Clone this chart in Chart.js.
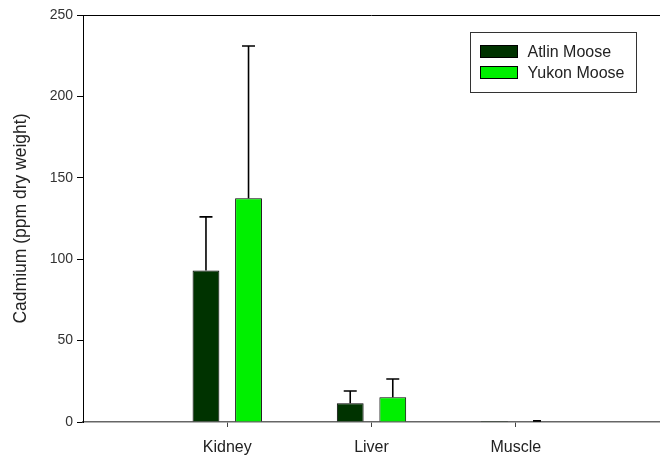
<!DOCTYPE html>
<html>
<head>
<meta charset="utf-8">
<script src="https://cdn.jsdelivr.net/npm/chart.js@4"></script>
<style>
  html, body { margin: 0; padding: 0; background: #fff; overflow: hidden; }
  canvas { display: block; }
</style>
</head>
<body>
<canvas id="chart" width="660" height="457"></canvas>
<script>
// data
const categories = ['Kidney', 'Liver', 'Muscle'];
const atlinMean = [93, 11.5, 0.05];
const atlinErr = [33, 7.5, 0];
const yukonMean = [137.5, 15.2, 0.3];
const yukonErr = [93.5, 11.2, 0.4];
const yTicks = [0, 50, 100, 150, 200, 250];

// pad with empty slots on both ends so spacing matches the original
const pad = arr => [null, ...arr, null];
const labels = ['', ...categories, ''];

const font = "'Liberation Sans', Arial, sans-serif";

// upward error bars with caps
const errorBars = {
    id: 'errorBars',
    afterDatasetsDraw(chart) {
        const ctx = chart.ctx;
        const y = chart.scales.y;
        ctx.save();
        ctx.strokeStyle = '#000';
        ctx.lineWidth = 1.6;
        chart.data.datasets.forEach((ds, di) => {
            const meta = chart.getDatasetMeta(di);
            ds.data.forEach((v, i) => {
                if (v == null || !ds.err[i]) return;
                const bar = meta.data[i];
                const top = y.getPixelForValue(v + ds.err[i]);
                const base = y.getPixelForValue(v);
                const cap = ds.err[i] < 1 ? 4 : 6.5;
                ctx.beginPath();
                ctx.moveTo(bar.x, base);
                ctx.lineTo(bar.x, top);
                ctx.moveTo(bar.x - cap, top);
                ctx.lineTo(bar.x + cap, top);
                ctx.stroke();
            });
        });
        ctx.restore();
    }
};

// top frame line and boxed legend
const frame = {
    id: 'frame',
    afterDraw(chart) {
        const ctx = chart.ctx;
        const a = chart.chartArea;
        ctx.save();
        ctx.strokeStyle = '#000';
        ctx.lineWidth = 1;
        ctx.beginPath();
        ctx.moveTo(a.left, a.top + 0.5);
        ctx.lineTo(chart.width, a.top + 0.5);
        ctx.stroke();

        // legend
        const lx = 470.5, ly = 32.5, lw = 166, lh = 60;
        ctx.strokeStyle = '#333';
        ctx.strokeRect(lx, ly, lw, lh);
        ctx.font = '16px ' + font;
        ctx.textBaseline = 'middle';
        chart.data.datasets.forEach((ds, i) => {
            const cy = ly + 19 + i * 21;
            ctx.fillStyle = ds.backgroundColor;
            ctx.fillRect(lx + 10, cy - 6, 37, 12);
            ctx.strokeStyle = '#000';
            ctx.strokeRect(lx + 10, cy - 6, 37, 12);
            ctx.fillStyle = '#222';
            ctx.fillText(ds.label, lx + 57, cy + 1);
        });
        ctx.restore();
    }
};

new Chart(document.querySelector('#chart').getContext('2d'), {
    type: 'bar',
    data: {
        labels: labels,
        datasets: [
            {
                label: 'Atlin Moose',
                data: pad(atlinMean),
                err: pad(atlinErr),
                backgroundColor: '#003300',
                borderColor: '#000',
                borderWidth: 1
            },
            {
                label: 'Yukon Moose',
                data: pad(yukonMean),
                err: pad(yukonErr),
                backgroundColor: '#00f000',
                borderColor: '#000',
                borderWidth: 1
            }
        ]
    },
    options: {
        responsive: false,
        animation: false,
        categoryPercentage: 0.59,
        barPercentage: 0.63,
        layout: { padding: { top: 15, right: -5, left: 0, bottom: 0 } },
        plugins: {
            legend: { display: false },
            tooltip: { enabled: false }
        },
        scales: {
            x: {
                offset: false,
                grid: {
                    offset: false,
                    drawOnChartArea: false,
                    tickLength: 5,
                    tickColor: c => (c.index === 0 || c.index === labels.length - 1) ? 'rgba(0,0,0,0)' : '#444'
                },
                border: { color: '#666', width: 1.5 },
                ticks: {
                    autoSkip: false,
                    maxRotation: 0,
                    padding: 11,
                    color: '#222',
                    font: { family: font, size: 16 }
                },
                afterFit: s => { s.height = 35; s.paddingRight = 0; s.paddingLeft = 0; }
            },
            y: {
                min: 0,
                max: 250,
                afterBuildTicks: s => { s.ticks = yTicks.map(v => ({ value: v })); },
                grid: { drawOnChartArea: false, tickLength: 6, tickColor: '#000' },
                border: { color: '#000', width: 1 },
                ticks: {
                    padding: 4,
                    color: '#333',
                    font: { family: font, size: 14 }
                },
                title: {
                    display: true,
                    text: 'Cadmium (ppm dry weight)',
                    color: '#222',
                    font: { family: font, size: 17.5 },
                    padding: { top: 11, bottom: 6 }
                },
                afterFit: s => { s.width = 83; }
            }
        }
    },
    plugins: [errorBars, frame]
});
</script>
</body>
</html>
